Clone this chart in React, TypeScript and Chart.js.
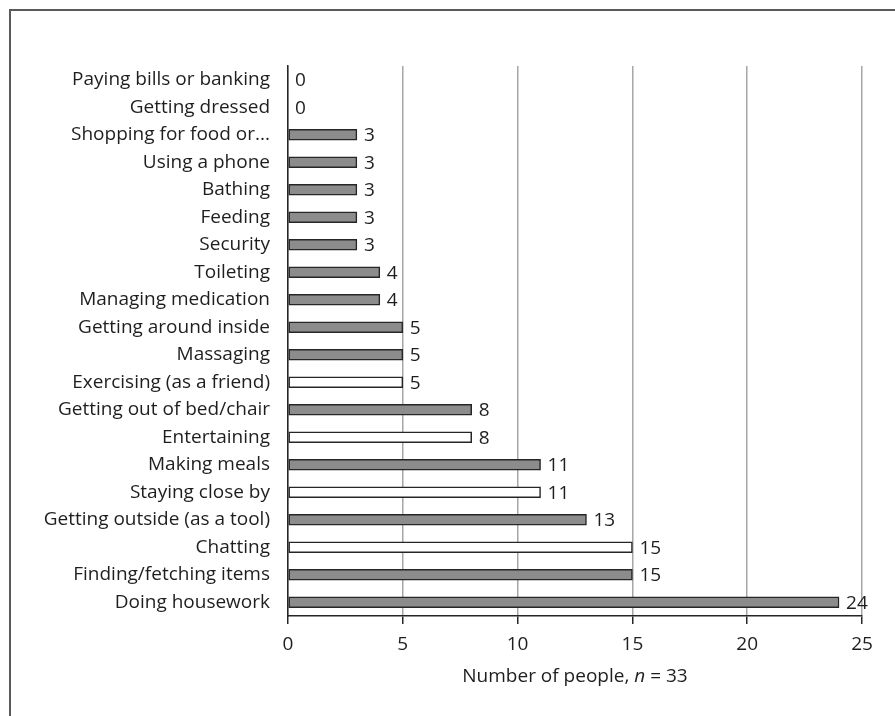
import React, { useEffect, useRef } from "react";
import { Chart, registerables } from "chart.js";

Chart.register(...registerables);

const categories = [
  "Paying bills or banking",
  "Getting dressed",
  "Shopping for food or...",
  "Using a phone",
  "Bathing",
  "Feeding",
  "Security",
  "Toileting",
  "Managing medication",
  "Getting around inside",
  "Massaging",
  "Exercising (as a friend)",
  "Getting out of bed/chair",
  "Entertaining",
  "Making meals",
  "Staying close by",
  "Getting outside (as a tool)",
  "Chatting",
  "Finding/fetching items",
  "Doing housework",
];

const counts = [0, 0, 3, 3, 3, 3, 3, 4, 4, 5, 5, 5, 8, 8, 11, 11, 13, 15, 15, 24];

// true = "as a friend" role (hollow bar)
const friendRole = [
  false, false, false, false, false, false, false, false, false, false,
  false, true, false, true, false, true, false, true, false, false,
];

const xTicks = [0, 5, 10, 15, 20, 25];

const FONT = "'Open Sans', 'Noto Sans', sans-serif";
const SIZE = 19;
const TEXT = "#1e1e1e";

const framePlugin = {
  id: "frame",
  beforeDraw(chart: any) {
    const { ctx } = chart;
    ctx.save();
    ctx.fillStyle = "#ffffff";
    ctx.fillRect(0, 0, chart.width, chart.height);
    ctx.strokeStyle = "#5a5a5a";
    ctx.lineWidth = 2;
    ctx.beginPath();
    ctx.moveTo(10, chart.height + 5);
    ctx.lineTo(10, 10);
    ctx.lineTo(chart.width + 5, 10);
    ctx.stroke();
    ctx.restore();
  },
};

const labelsPlugin = {
  id: "valueLabels",
  afterDatasetsDraw(chart: any) {
    const { ctx } = chart;
    const meta = chart.getDatasetMeta(0);
    ctx.save();
    ctx.font = `${SIZE}px ${FONT}`;
    ctx.fillStyle = TEXT;
    ctx.textAlign = "left";
    ctx.textBaseline = "middle";
    meta.data.forEach((el: any, i: number) => {
      ctx.fillText(String(counts[i]), el.x + 7, el.y + 1);
    });
    ctx.restore();
  },
  afterDraw(chart: any) {
    const { ctx, chartArea } = chart;
    const parts = [
      { t: "Number of people, ", f: `${SIZE}px ${FONT}` },
      { t: "n", f: `italic ${SIZE}px ${FONT}` },
      { t: " = 33", f: `${SIZE}px ${FONT}` },
    ];
    ctx.save();
    ctx.fillStyle = TEXT;
    ctx.textBaseline = "middle";
    ctx.textAlign = "left";
    let total = 0;
    parts.forEach((p) => {
      ctx.font = p.f;
      total += ctx.measureText(p.t).width;
    });
    let x = (chartArea.left + chartArea.right) / 2 - total / 2;
    const y = 677;
    parts.forEach((p) => {
      ctx.font = p.f;
      ctx.fillText(p.t, x, y);
      x += ctx.measureText(p.t).width;
    });
    ctx.restore();
  },
};

export default function App() {
  const ref = useRef<HTMLCanvasElement | null>(null);

  useEffect(() => {
    if (!ref.current) return;
    const chart = new Chart(ref.current, {
      type: "bar",
      data: {
        labels: categories,
        datasets: [
          {
            data: counts,
            backgroundColor: friendRole.map((f) => (f ? "#ffffff" : "#8c8c8c")),
            borderColor: "#262626",
            borderWidth: 1.5,
            borderSkipped: false,
            barThickness: 11,
          },
        ],
      },
      options: {
        indexAxis: "y",
        animation: false,
        responsive: false,
        maintainAspectRatio: false,
        layout: { padding: { left: 0, right: 33, top: 66, bottom: 0 } },
        plugins: {
          legend: { display: false },
          tooltip: { enabled: false },
        },
        scales: {
          x: {
            min: 0,
            max: 25,
            afterBuildTicks: (scale: any) => {
              scale.ticks = xTicks.map((v) => ({ value: v }));
            },
            afterFit: (scale: any) => {
              scale.height = 100;
            },
            grid: {
              color: "#a6a6a6",
              lineWidth: 1.5,
              tickColor: "#262626",
              tickLength: 8,
              drawTicks: true,
            },
            border: { display: true, color: "#262626", width: 1.5 },
            ticks: {
              color: TEXT,
              font: { family: FONT, size: SIZE },
              padding: 9,
              maxRotation: 0,
            },
          },
          y: {
            afterFit: (scale: any) => {
              scale.width = 288;
            },
            grid: { display: false },
            border: { display: true, color: "#262626", width: 1.5 },
            ticks: {
              color: TEXT,
              font: { family: FONT, size: SIZE },
              padding: 10,
              autoSkip: false,
            },
          },
        },
      },
      plugins: [framePlugin, labelsPlugin],
    } as any);
    return () => chart.destroy();
  }, []);

  return (
    <div style={{ position: "fixed", left: 0, top: 0, width: 895, height: 716 }}>
      <canvas ref={ref} width={895} height={716} style={{ display: "block" }} />
    </div>
  );
}
